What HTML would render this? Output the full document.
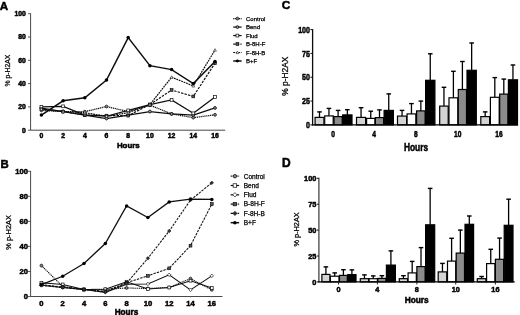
<!DOCTYPE html>
<html><head><meta charset="utf-8"><title>Figure</title>
<style>html,body{margin:0;padding:0;background:#fff;}svg{display:block;font-family:"Liberation Sans",sans-serif;}</style>
</head><body>
<svg width="520" height="315" viewBox="0 0 520 315">
<defs><filter id="soft" x="0" y="0" width="520" height="315" filterUnits="userSpaceOnUse"><feGaussianBlur stdDeviation="0.35"/></filter></defs>
<rect width="520" height="315" fill="#fff"/>
<g filter="url(#soft)">
<path d="M30.6,13.399999999999999 V130.2 H225.2" fill="none" stroke="#333" stroke-width="0.9"/>
<path d="M28.0,130.20 H30.6" stroke="#333" stroke-width="0.8"/>
<text transform="translate(25.90,132.63)" font-size="6.8" text-anchor="end" font-weight="bold" fill="#000" stroke="#000" stroke-width="0.5">0</text>
<path d="M28.0,106.90 H30.6" stroke="#333" stroke-width="0.8"/>
<text transform="translate(25.90,109.33)" font-size="6.8" text-anchor="end" font-weight="bold" fill="#000" stroke="#000" stroke-width="0.5">20</text>
<path d="M28.0,83.60 H30.6" stroke="#333" stroke-width="0.8"/>
<text transform="translate(25.90,86.03)" font-size="6.8" text-anchor="end" font-weight="bold" fill="#000" stroke="#000" stroke-width="0.5">40</text>
<path d="M28.0,60.30 H30.6" stroke="#333" stroke-width="0.8"/>
<text transform="translate(25.90,62.73)" font-size="6.8" text-anchor="end" font-weight="bold" fill="#000" stroke="#000" stroke-width="0.5">60</text>
<path d="M28.0,37.00 H30.6" stroke="#333" stroke-width="0.8"/>
<text transform="translate(25.90,39.43)" font-size="6.8" text-anchor="end" font-weight="bold" fill="#000" stroke="#000" stroke-width="0.5">80</text>
<path d="M28.0,13.70 H30.6" stroke="#333" stroke-width="0.8"/>
<text transform="translate(25.90,16.13)" font-size="6.8" text-anchor="end" font-weight="bold" fill="#000" stroke="#000" stroke-width="0.5">100</text>
<path d="M41.40,130.2 V131.39999999999998" stroke="#999" stroke-width="0.6"/>
<text transform="translate(41.40,138.20)" font-size="6.8" text-anchor="middle" font-weight="bold" fill="#000" stroke="#000" stroke-width="0.5">0</text>
<path d="M63.10,130.2 V131.39999999999998" stroke="#999" stroke-width="0.6"/>
<text transform="translate(63.10,138.20)" font-size="6.8" text-anchor="middle" font-weight="bold" fill="#000" stroke="#000" stroke-width="0.5">2</text>
<path d="M84.80,130.2 V131.39999999999998" stroke="#999" stroke-width="0.6"/>
<text transform="translate(84.80,138.20)" font-size="6.8" text-anchor="middle" font-weight="bold" fill="#000" stroke="#000" stroke-width="0.5">4</text>
<path d="M106.50,130.2 V131.39999999999998" stroke="#999" stroke-width="0.6"/>
<text transform="translate(106.50,138.20)" font-size="6.8" text-anchor="middle" font-weight="bold" fill="#000" stroke="#000" stroke-width="0.5">6</text>
<path d="M128.20,130.2 V131.39999999999998" stroke="#999" stroke-width="0.6"/>
<text transform="translate(128.20,138.20)" font-size="6.8" text-anchor="middle" font-weight="bold" fill="#000" stroke="#000" stroke-width="0.5">8</text>
<path d="M149.90,130.2 V131.39999999999998" stroke="#999" stroke-width="0.6"/>
<text transform="translate(149.90,138.20)" font-size="6.8" text-anchor="middle" font-weight="bold" fill="#000" stroke="#000" stroke-width="0.5">10</text>
<path d="M171.60,130.2 V131.39999999999998" stroke="#999" stroke-width="0.6"/>
<text transform="translate(171.60,138.20)" font-size="6.8" text-anchor="middle" font-weight="bold" fill="#000" stroke="#000" stroke-width="0.5">12</text>
<path d="M193.30,130.2 V131.39999999999998" stroke="#999" stroke-width="0.6"/>
<text transform="translate(193.30,138.20)" font-size="6.8" text-anchor="middle" font-weight="bold" fill="#000" stroke="#000" stroke-width="0.5">14</text>
<path d="M215.00,130.2 V131.39999999999998" stroke="#999" stroke-width="0.6"/>
<text transform="translate(215.00,138.20)" font-size="6.8" text-anchor="middle" font-weight="bold" fill="#000" stroke="#000" stroke-width="0.5">16</text>
<text transform="translate(128.30,147.90)" font-size="7.9" text-anchor="middle" font-weight="bold" fill="#000" stroke="#000" stroke-width="0.5">Hours</text>
<text transform="translate(10.20,70.60) rotate(-90)" font-size="6.8" text-anchor="middle" fill="#000" stroke="#000" stroke-width="0.25">% p-H2AX</text>
<text transform="translate(-0.30,10.20)" font-size="11.6" text-anchor="start" font-weight="bold" fill="#000" stroke="#000" stroke-width="0.5">A</text>
<polyline points="41.40,110.39 63.10,111.56 84.80,111.68 106.50,106.55 128.20,111.56 149.90,105.15 171.60,113.89 193.30,117.62 215.00,114.82" fill="none" stroke="#111" stroke-width="1.25" stroke-dasharray="1.2 0.7"/>
<circle cx="41.40" cy="110.39" r="1.4" fill="#888" stroke="#111" stroke-width="0.8"/>
<circle cx="63.10" cy="111.56" r="1.4" fill="#888" stroke="#111" stroke-width="0.8"/>
<circle cx="84.80" cy="111.68" r="1.4" fill="#888" stroke="#111" stroke-width="0.8"/>
<circle cx="106.50" cy="106.55" r="1.4" fill="#888" stroke="#111" stroke-width="0.8"/>
<circle cx="128.20" cy="111.56" r="1.4" fill="#888" stroke="#111" stroke-width="0.8"/>
<circle cx="149.90" cy="105.15" r="1.4" fill="#888" stroke="#111" stroke-width="0.8"/>
<circle cx="171.60" cy="113.89" r="1.4" fill="#888" stroke="#111" stroke-width="0.8"/>
<circle cx="193.30" cy="117.62" r="1.4" fill="#888" stroke="#111" stroke-width="0.8"/>
<circle cx="215.00" cy="114.82" r="1.4" fill="#888" stroke="#111" stroke-width="0.8"/>
<polyline points="41.40,108.06 63.10,111.56 84.80,115.05 106.50,118.55 128.20,115.05 149.90,111.56 171.60,113.89 193.30,115.05 215.00,107.95" fill="none" stroke="#111" stroke-width="1.25"/>
<circle cx="41.40" cy="108.06" r="1.4" fill="#999" stroke="#111" stroke-width="0.9"/>
<circle cx="63.10" cy="111.56" r="1.4" fill="#999" stroke="#111" stroke-width="0.9"/>
<circle cx="84.80" cy="115.05" r="1.4" fill="#999" stroke="#111" stroke-width="0.9"/>
<circle cx="106.50" cy="118.55" r="1.4" fill="#999" stroke="#111" stroke-width="0.9"/>
<circle cx="128.20" cy="115.05" r="1.4" fill="#999" stroke="#111" stroke-width="0.9"/>
<circle cx="149.90" cy="111.56" r="1.4" fill="#999" stroke="#111" stroke-width="0.9"/>
<circle cx="171.60" cy="113.89" r="1.4" fill="#999" stroke="#111" stroke-width="0.9"/>
<circle cx="193.30" cy="115.05" r="1.4" fill="#999" stroke="#111" stroke-width="0.9"/>
<circle cx="215.00" cy="107.95" r="1.4" fill="#999" stroke="#111" stroke-width="0.9"/>
<polyline points="41.40,106.90 63.10,106.32 84.80,115.05 106.50,116.22 128.20,110.39 149.90,104.57 171.60,99.91 193.30,113.31 215.00,97.00" fill="none" stroke="#111" stroke-width="1.20"/>
<rect x="40.00" y="105.50" width="2.8" height="2.8" fill="#fff" stroke="#111" stroke-width="0.7"/>
<rect x="61.70" y="104.92" width="2.8" height="2.8" fill="#fff" stroke="#111" stroke-width="0.7"/>
<rect x="83.40" y="113.65" width="2.8" height="2.8" fill="#fff" stroke="#111" stroke-width="0.7"/>
<rect x="105.10" y="114.82" width="2.8" height="2.8" fill="#fff" stroke="#111" stroke-width="0.7"/>
<rect x="126.80" y="108.99" width="2.8" height="2.8" fill="#fff" stroke="#111" stroke-width="0.7"/>
<rect x="148.50" y="103.17" width="2.8" height="2.8" fill="#fff" stroke="#111" stroke-width="0.7"/>
<rect x="170.20" y="98.51" width="2.8" height="2.8" fill="#fff" stroke="#111" stroke-width="0.7"/>
<rect x="191.90" y="111.91" width="2.8" height="2.8" fill="#fff" stroke="#111" stroke-width="0.7"/>
<rect x="213.60" y="95.60" width="2.8" height="2.8" fill="#fff" stroke="#111" stroke-width="0.7"/>
<polyline points="41.40,109.23 63.10,111.56 84.80,115.05 106.50,115.64 128.20,115.64 149.90,104.57 171.60,90.01 193.30,96.41 215.00,63.21" fill="none" stroke="#111" stroke-width="1.20" stroke-dasharray="2.4 1.2"/>
<rect x="40.00" y="107.83" width="2.8" height="2.8" fill="#555" stroke="#000" stroke-width="0.6"/>
<rect x="61.70" y="110.16" width="2.8" height="2.8" fill="#555" stroke="#000" stroke-width="0.6"/>
<rect x="83.40" y="113.65" width="2.8" height="2.8" fill="#555" stroke="#000" stroke-width="0.6"/>
<rect x="105.10" y="114.24" width="2.8" height="2.8" fill="#555" stroke="#000" stroke-width="0.6"/>
<rect x="126.80" y="114.24" width="2.8" height="2.8" fill="#555" stroke="#000" stroke-width="0.6"/>
<rect x="148.50" y="103.17" width="2.8" height="2.8" fill="#555" stroke="#000" stroke-width="0.6"/>
<rect x="170.20" y="88.61" width="2.8" height="2.8" fill="#555" stroke="#000" stroke-width="0.6"/>
<rect x="191.90" y="95.01" width="2.8" height="2.8" fill="#555" stroke="#000" stroke-width="0.6"/>
<rect x="213.60" y="61.81" width="2.8" height="2.8" fill="#555" stroke="#000" stroke-width="0.6"/>
<polyline points="41.40,109.23 63.10,111.56 84.80,112.72 106.50,116.22 128.20,112.72 149.90,104.57 171.60,77.19 193.30,85.93 215.00,50.05" fill="none" stroke="#111" stroke-width="1.20" stroke-dasharray="1.8 0.8"/>
<path d="M41.40,107.83 L42.80,110.35 L40.00,110.35Z" fill="#fff" stroke="#222" stroke-width="0.6"/>
<path d="M63.10,110.16 L64.50,112.68 L61.70,112.68Z" fill="#fff" stroke="#222" stroke-width="0.6"/>
<path d="M84.80,111.32 L86.20,113.84 L83.40,113.84Z" fill="#fff" stroke="#222" stroke-width="0.6"/>
<path d="M106.50,114.82 L107.90,117.34 L105.10,117.34Z" fill="#fff" stroke="#222" stroke-width="0.6"/>
<path d="M128.20,111.32 L129.60,113.84 L126.80,113.84Z" fill="#fff" stroke="#222" stroke-width="0.6"/>
<path d="M149.90,103.17 L151.30,105.69 L148.50,105.69Z" fill="#fff" stroke="#222" stroke-width="0.6"/>
<path d="M171.60,75.79 L173.00,78.31 L170.20,78.31Z" fill="#fff" stroke="#222" stroke-width="0.6"/>
<path d="M193.30,84.53 L194.70,87.05 L191.90,87.05Z" fill="#fff" stroke="#222" stroke-width="0.6"/>
<path d="M215.00,48.65 L216.40,51.17 L213.60,51.17Z" fill="#fff" stroke="#222" stroke-width="0.6"/>
<polyline points="41.40,115.05 63.10,100.84 84.80,97.81 106.50,80.10 128.20,37.58 149.90,65.66 171.60,69.62 193.30,83.60 215.00,61.47" fill="none" stroke="#111" stroke-width="1.50"/>
<circle cx="41.40" cy="115.05" r="1.75" fill="#000"/>
<circle cx="63.10" cy="100.84" r="1.75" fill="#000"/>
<circle cx="84.80" cy="97.81" r="1.75" fill="#000"/>
<circle cx="106.50" cy="80.10" r="1.75" fill="#000"/>
<circle cx="128.20" cy="37.58" r="1.75" fill="#000"/>
<circle cx="149.90" cy="65.66" r="1.75" fill="#000"/>
<circle cx="171.60" cy="69.62" r="1.75" fill="#000"/>
<circle cx="193.30" cy="83.60" r="1.75" fill="#000"/>
<circle cx="215.00" cy="61.47" r="1.75" fill="#000"/>
<path d="M233.20000000000002,18.60 H241.6" stroke="#111" stroke-width="1.25" stroke-dasharray="1.2 0.7"/>
<circle cx="237.40" cy="18.60" r="1.4" fill="#888" stroke="#111" stroke-width="0.8"/>
<text transform="translate(246.00,20.76)" font-size="6.0" text-anchor="start" fill="#000" stroke="#000" stroke-width="0.25">Control</text>
<path d="M233.20000000000002,27.08 H241.6" stroke="#111" stroke-width="1.25"/>
<circle cx="237.40" cy="27.08" r="1.4" fill="#999" stroke="#111" stroke-width="0.9"/>
<text transform="translate(246.00,29.24)" font-size="6.0" text-anchor="start" fill="#000" stroke="#000" stroke-width="0.25">Bend</text>
<path d="M233.20000000000002,35.56 H241.6" stroke="#111" stroke-width="1.2"/>
<rect x="236.00" y="34.16" width="2.8" height="2.8" fill="#fff" stroke="#111" stroke-width="0.7"/>
<text transform="translate(246.00,37.72)" font-size="6.0" text-anchor="start" fill="#000" stroke="#000" stroke-width="0.25">Flud</text>
<path d="M233.20000000000002,44.04 H241.6" stroke="#111" stroke-width="1.2" stroke-dasharray="2.4 1.2"/>
<rect x="236.00" y="42.64" width="2.8" height="2.8" fill="#555" stroke="#000" stroke-width="0.6"/>
<text transform="translate(246.00,46.20)" font-size="6.0" text-anchor="start" fill="#000" stroke="#000" stroke-width="0.25">B-8H-F</text>
<path d="M233.20000000000002,52.52 H241.6" stroke="#111" stroke-width="1.2" stroke-dasharray="1.8 0.8"/>
<path d="M237.40,51.12 L238.80,53.64 L236.00,53.64Z" fill="#fff" stroke="#222" stroke-width="0.6"/>
<text transform="translate(246.00,54.68)" font-size="6.0" text-anchor="start" fill="#000" stroke="#000" stroke-width="0.25">F-8H-B</text>
<path d="M233.20000000000002,61.00 H241.6" stroke="#111" stroke-width="1.5"/>
<circle cx="237.40" cy="61.00" r="1.4" fill="#000"/>
<text transform="translate(246.00,63.16)" font-size="6.0" text-anchor="start" fill="#000" stroke="#000" stroke-width="0.25">B+F</text>
<path d="M30.6,171.0 V296.5 H222.5" fill="none" stroke="#333" stroke-width="0.9"/>
<path d="M28.0,296.50 H30.6" stroke="#333" stroke-width="0.8"/>
<text transform="translate(27.90,299.22)" font-size="7.6" text-anchor="end" font-weight="bold" fill="#000" stroke="#000" stroke-width="0.5">0</text>
<path d="M28.0,271.46 H30.6" stroke="#333" stroke-width="0.8"/>
<text transform="translate(27.90,274.18)" font-size="7.6" text-anchor="end" font-weight="bold" fill="#000" stroke="#000" stroke-width="0.5">20</text>
<path d="M28.0,246.42 H30.6" stroke="#333" stroke-width="0.8"/>
<text transform="translate(27.90,249.14)" font-size="7.6" text-anchor="end" font-weight="bold" fill="#000" stroke="#000" stroke-width="0.5">40</text>
<path d="M28.0,221.38 H30.6" stroke="#333" stroke-width="0.8"/>
<text transform="translate(27.90,224.10)" font-size="7.6" text-anchor="end" font-weight="bold" fill="#000" stroke="#000" stroke-width="0.5">60</text>
<path d="M28.0,196.34 H30.6" stroke="#333" stroke-width="0.8"/>
<text transform="translate(27.90,199.06)" font-size="7.6" text-anchor="end" font-weight="bold" fill="#000" stroke="#000" stroke-width="0.5">80</text>
<path d="M28.0,171.30 H30.6" stroke="#333" stroke-width="0.8"/>
<text transform="translate(27.90,174.02)" font-size="7.6" text-anchor="end" font-weight="bold" fill="#000" stroke="#000" stroke-width="0.5">100</text>
<path d="M41.40,296.5 V297.7" stroke="#999" stroke-width="0.6"/>
<text transform="translate(41.40,305.80)" font-size="7.6" text-anchor="middle" font-weight="bold" fill="#000" stroke="#000" stroke-width="0.5">0</text>
<path d="M62.70,296.5 V297.7" stroke="#999" stroke-width="0.6"/>
<text transform="translate(62.70,305.80)" font-size="7.6" text-anchor="middle" font-weight="bold" fill="#000" stroke="#000" stroke-width="0.5">2</text>
<path d="M84.00,296.5 V297.7" stroke="#999" stroke-width="0.6"/>
<text transform="translate(84.00,305.80)" font-size="7.6" text-anchor="middle" font-weight="bold" fill="#000" stroke="#000" stroke-width="0.5">4</text>
<path d="M105.30,296.5 V297.7" stroke="#999" stroke-width="0.6"/>
<text transform="translate(105.30,305.80)" font-size="7.6" text-anchor="middle" font-weight="bold" fill="#000" stroke="#000" stroke-width="0.5">6</text>
<path d="M126.60,296.5 V297.7" stroke="#999" stroke-width="0.6"/>
<text transform="translate(126.60,305.80)" font-size="7.6" text-anchor="middle" font-weight="bold" fill="#000" stroke="#000" stroke-width="0.5">8</text>
<path d="M147.90,296.5 V297.7" stroke="#999" stroke-width="0.6"/>
<text transform="translate(147.90,305.80)" font-size="7.6" text-anchor="middle" font-weight="bold" fill="#000" stroke="#000" stroke-width="0.5">10</text>
<path d="M169.20,296.5 V297.7" stroke="#999" stroke-width="0.6"/>
<text transform="translate(169.20,305.80)" font-size="7.6" text-anchor="middle" font-weight="bold" fill="#000" stroke="#000" stroke-width="0.5">12</text>
<path d="M190.50,296.5 V297.7" stroke="#999" stroke-width="0.6"/>
<text transform="translate(190.50,305.80)" font-size="7.6" text-anchor="middle" font-weight="bold" fill="#000" stroke="#000" stroke-width="0.5">14</text>
<path d="M211.80,296.5 V297.7" stroke="#999" stroke-width="0.6"/>
<text transform="translate(211.80,305.80)" font-size="7.6" text-anchor="middle" font-weight="bold" fill="#000" stroke="#000" stroke-width="0.5">16</text>
<text transform="translate(126.50,314.60)" font-size="8.2" text-anchor="middle" font-weight="bold" fill="#000" stroke="#000" stroke-width="0.5">Hours</text>
<text transform="translate(11.00,232.40) rotate(-90)" font-size="7.4" text-anchor="middle" fill="#000" stroke="#000" stroke-width="0.25">% p-H2AX</text>
<text transform="translate(0.40,167.60)" font-size="11.4" text-anchor="start" font-weight="bold" fill="#000" stroke="#000" stroke-width="0.5">B</text>
<polyline points="41.40,265.58 62.70,286.48 84.00,289.49 105.30,289.24 126.60,287.99 147.90,288.49 169.20,287.49 190.50,278.60 211.80,289.86" fill="none" stroke="#111" stroke-width="1.06" stroke-dasharray="1.2 0.7"/>
<circle cx="41.40" cy="265.58" r="1.4" fill="#888" stroke="#111" stroke-width="0.8"/>
<circle cx="62.70" cy="286.48" r="1.4" fill="#888" stroke="#111" stroke-width="0.8"/>
<circle cx="84.00" cy="289.49" r="1.4" fill="#888" stroke="#111" stroke-width="0.8"/>
<circle cx="105.30" cy="289.24" r="1.4" fill="#888" stroke="#111" stroke-width="0.8"/>
<circle cx="126.60" cy="287.99" r="1.4" fill="#888" stroke="#111" stroke-width="0.8"/>
<circle cx="147.90" cy="288.49" r="1.4" fill="#888" stroke="#111" stroke-width="0.8"/>
<circle cx="169.20" cy="287.49" r="1.4" fill="#888" stroke="#111" stroke-width="0.8"/>
<circle cx="190.50" cy="278.60" r="1.4" fill="#888" stroke="#111" stroke-width="0.8"/>
<circle cx="211.80" cy="289.86" r="1.4" fill="#888" stroke="#111" stroke-width="0.8"/>
<polyline points="41.40,282.85 62.70,284.48 84.00,289.49 105.30,289.24 126.60,281.73 147.90,288.99 169.20,287.49 190.50,280.72 211.80,287.99" fill="none" stroke="#111" stroke-width="1.02"/>
<rect x="40.00" y="281.45" width="2.8" height="2.8" fill="#fff" stroke="#111" stroke-width="0.7"/>
<rect x="61.30" y="283.08" width="2.8" height="2.8" fill="#fff" stroke="#111" stroke-width="0.7"/>
<rect x="82.60" y="288.09" width="2.8" height="2.8" fill="#fff" stroke="#111" stroke-width="0.7"/>
<rect x="103.90" y="287.84" width="2.8" height="2.8" fill="#fff" stroke="#111" stroke-width="0.7"/>
<rect x="125.20" y="280.33" width="2.8" height="2.8" fill="#fff" stroke="#111" stroke-width="0.7"/>
<rect x="146.50" y="287.59" width="2.8" height="2.8" fill="#fff" stroke="#111" stroke-width="0.7"/>
<rect x="167.80" y="286.09" width="2.8" height="2.8" fill="#fff" stroke="#111" stroke-width="0.7"/>
<rect x="189.10" y="279.32" width="2.8" height="2.8" fill="#fff" stroke="#111" stroke-width="0.7"/>
<rect x="210.40" y="286.59" width="2.8" height="2.8" fill="#fff" stroke="#111" stroke-width="0.7"/>
<polyline points="41.40,285.36 62.70,287.49 84.00,289.49 105.30,292.37 126.60,284.23 147.90,283.98 169.20,274.84 190.50,289.86 211.80,275.84" fill="none" stroke="#111" stroke-width="1.02"/>
<path d="M41.40,283.61 L43.15,285.36 L41.40,287.11 L39.65,285.36Z" fill="#fff" stroke="#111" stroke-width="0.7"/>
<path d="M62.70,285.74 L64.45,287.49 L62.70,289.24 L60.95,287.49Z" fill="#fff" stroke="#111" stroke-width="0.7"/>
<path d="M84.00,287.74 L85.75,289.49 L84.00,291.24 L82.25,289.49Z" fill="#fff" stroke="#111" stroke-width="0.7"/>
<path d="M105.30,290.62 L107.05,292.37 L105.30,294.12 L103.55,292.37Z" fill="#fff" stroke="#111" stroke-width="0.7"/>
<path d="M126.60,282.48 L128.35,284.23 L126.60,285.98 L124.85,284.23Z" fill="#fff" stroke="#111" stroke-width="0.7"/>
<path d="M147.90,282.23 L149.65,283.98 L147.90,285.73 L146.15,283.98Z" fill="#fff" stroke="#111" stroke-width="0.7"/>
<path d="M169.20,273.09 L170.95,274.84 L169.20,276.59 L167.45,274.84Z" fill="#fff" stroke="#111" stroke-width="0.7"/>
<path d="M190.50,288.11 L192.25,289.86 L190.50,291.61 L188.75,289.86Z" fill="#fff" stroke="#111" stroke-width="0.7"/>
<path d="M211.80,274.09 L213.55,275.84 L211.80,277.59 L210.05,275.84Z" fill="#fff" stroke="#111" stroke-width="0.7"/>
<polyline points="41.40,284.61 62.70,287.11 84.00,289.49 105.30,291.24 126.60,282.73 147.90,275.84 169.20,268.33 190.50,245.67 211.80,204.10" fill="none" stroke="#111" stroke-width="1.06" stroke-dasharray="2.4 1.1"/>
<rect x="40.00" y="283.21" width="2.8" height="2.8" fill="#555" stroke="#000" stroke-width="0.6"/>
<rect x="61.30" y="285.71" width="2.8" height="2.8" fill="#555" stroke="#000" stroke-width="0.6"/>
<rect x="82.60" y="288.09" width="2.8" height="2.8" fill="#555" stroke="#000" stroke-width="0.6"/>
<rect x="103.90" y="289.84" width="2.8" height="2.8" fill="#555" stroke="#000" stroke-width="0.6"/>
<rect x="125.20" y="281.33" width="2.8" height="2.8" fill="#555" stroke="#000" stroke-width="0.6"/>
<rect x="146.50" y="274.44" width="2.8" height="2.8" fill="#555" stroke="#000" stroke-width="0.6"/>
<rect x="167.80" y="266.93" width="2.8" height="2.8" fill="#555" stroke="#000" stroke-width="0.6"/>
<rect x="189.10" y="244.27" width="2.8" height="2.8" fill="#555" stroke="#000" stroke-width="0.6"/>
<rect x="210.40" y="202.70" width="2.8" height="2.8" fill="#555" stroke="#000" stroke-width="0.6"/>
<polyline points="41.40,285.36 62.70,287.49 84.00,289.49 105.30,291.99 126.60,283.23 147.90,258.31 169.20,231.02 190.50,200.10 211.80,182.82" fill="none" stroke="#111" stroke-width="1.06" stroke-dasharray="2.4 1.1"/>
<path d="M41.40,283.61 L43.15,285.36 L41.40,287.11 L39.65,285.36Z" fill="#333" stroke="#000" stroke-width="0.5"/>
<path d="M62.70,285.74 L64.45,287.49 L62.70,289.24 L60.95,287.49Z" fill="#333" stroke="#000" stroke-width="0.5"/>
<path d="M84.00,287.74 L85.75,289.49 L84.00,291.24 L82.25,289.49Z" fill="#333" stroke="#000" stroke-width="0.5"/>
<path d="M105.30,290.24 L107.05,291.99 L105.30,293.74 L103.55,291.99Z" fill="#333" stroke="#000" stroke-width="0.5"/>
<path d="M126.60,281.48 L128.35,283.23 L126.60,284.98 L124.85,283.23Z" fill="#333" stroke="#000" stroke-width="0.5"/>
<path d="M147.90,256.56 L149.65,258.31 L147.90,260.06 L146.15,258.31Z" fill="#333" stroke="#000" stroke-width="0.5"/>
<path d="M169.20,229.27 L170.95,231.02 L169.20,232.77 L167.45,231.02Z" fill="#333" stroke="#000" stroke-width="0.5"/>
<path d="M190.50,198.35 L192.25,200.10 L190.50,201.85 L188.75,200.10Z" fill="#333" stroke="#000" stroke-width="0.5"/>
<path d="M211.80,181.07 L213.55,182.82 L211.80,184.57 L210.05,182.82Z" fill="#333" stroke="#000" stroke-width="0.5"/>
<polyline points="41.40,284.61 62.70,276.22 84.00,263.57 105.30,243.54 126.60,205.98 147.90,217.62 169.20,201.97 190.50,199.09 211.80,199.47" fill="none" stroke="#111" stroke-width="1.27"/>
<circle cx="41.40" cy="284.61" r="1.75" fill="#000"/>
<circle cx="62.70" cy="276.22" r="1.75" fill="#000"/>
<circle cx="84.00" cy="263.57" r="1.75" fill="#000"/>
<circle cx="105.30" cy="243.54" r="1.75" fill="#000"/>
<circle cx="126.60" cy="205.98" r="1.75" fill="#000"/>
<circle cx="147.90" cy="217.62" r="1.75" fill="#000"/>
<circle cx="169.20" cy="201.97" r="1.75" fill="#000"/>
<circle cx="190.50" cy="199.09" r="1.75" fill="#000"/>
<circle cx="211.80" cy="199.47" r="1.75" fill="#000"/>
<path d="M230.70000000000002,176.20 H239.1" stroke="#111" stroke-width="1.25" stroke-dasharray="1.2 0.7"/>
<circle cx="234.90" cy="176.20" r="1.75" fill="#888" stroke="#111" stroke-width="0.8"/>
<text transform="translate(243.70,178.56)" font-size="6.55" text-anchor="start" fill="#000" stroke="#000" stroke-width="0.25">Control</text>
<path d="M230.70000000000002,185.50 H239.1" stroke="#111" stroke-width="1.2"/>
<rect x="233.15" y="183.75" width="3.5" height="3.5" fill="#fff" stroke="#111" stroke-width="0.7"/>
<text transform="translate(243.70,187.86)" font-size="6.55" text-anchor="start" fill="#000" stroke="#000" stroke-width="0.25">Bend</text>
<path d="M230.70000000000002,194.80 H239.1" stroke="#111" stroke-width="1.2"/>
<path d="M234.90,192.61 L237.09,194.80 L234.90,196.99 L232.71,194.80Z" fill="#fff" stroke="#111" stroke-width="0.7"/>
<text transform="translate(243.70,197.16)" font-size="6.55" text-anchor="start" fill="#000" stroke="#000" stroke-width="0.25">Flud</text>
<path d="M230.70000000000002,204.10 H239.1" stroke="#111" stroke-width="1.25" stroke-dasharray="2.4 1.1"/>
<rect x="233.15" y="202.35" width="3.5" height="3.5" fill="#555" stroke="#000" stroke-width="0.6"/>
<text transform="translate(243.70,206.46)" font-size="6.55" text-anchor="start" fill="#000" stroke="#000" stroke-width="0.25">B-8H-F</text>
<path d="M230.70000000000002,213.40 H239.1" stroke="#111" stroke-width="1.25" stroke-dasharray="2.4 1.1"/>
<path d="M234.90,211.21 L237.09,213.40 L234.90,215.59 L232.71,213.40Z" fill="#333" stroke="#000" stroke-width="0.5"/>
<text transform="translate(243.70,215.76)" font-size="6.55" text-anchor="start" fill="#000" stroke="#000" stroke-width="0.25">F-8H-B</text>
<path d="M230.70000000000002,222.70 H239.1" stroke="#111" stroke-width="1.5"/>
<circle cx="234.90" cy="222.70" r="1.75" fill="#000"/>
<text transform="translate(243.70,225.06)" font-size="6.55" text-anchor="start" fill="#000" stroke="#000" stroke-width="0.25">B+F</text>
<path d="M319.50,117.40 V111.60" stroke="#000" stroke-width="1.3" fill="none"/>
<path d="M317.20,111.90 H321.80" stroke="#000" stroke-width="1.4" fill="none"/>
<rect x="315.10" y="117.40" width="8.80" height="7.50" fill="#d4d4d4" stroke="#000" stroke-width="1.2"/>
<path d="M328.95,115.90 V108.10" stroke="#000" stroke-width="1.3" fill="none"/>
<path d="M326.65,108.40 H331.25" stroke="#000" stroke-width="1.4" fill="none"/>
<rect x="324.70" y="115.90" width="8.50" height="9.00" fill="#ffffff" stroke="#000" stroke-width="1.2"/>
<path d="M338.10,116.60 V110.10" stroke="#000" stroke-width="1.3" fill="none"/>
<path d="M335.80,110.40 H340.40" stroke="#000" stroke-width="1.4" fill="none"/>
<rect x="334.00" y="116.60" width="8.20" height="8.30" fill="#8c8c8c" stroke="#000" stroke-width="1.2"/>
<path d="M347.35,114.90 V109.40" stroke="#000" stroke-width="1.3" fill="none"/>
<path d="M345.05,109.70 H349.65" stroke="#000" stroke-width="1.4" fill="none"/>
<rect x="342.70" y="114.90" width="9.30" height="10.00" fill="#000000" stroke="#000" stroke-width="1.2"/>
<text transform="translate(333.20,136.80) scale(0.79,1)" font-size="8.4" text-anchor="middle" font-weight="bold" fill="#000" stroke="#000" stroke-width="0.5">0</text>
<path d="M361.05,117.40 V107.40" stroke="#000" stroke-width="1.3" fill="none"/>
<path d="M358.75,107.70 H363.35" stroke="#000" stroke-width="1.4" fill="none"/>
<rect x="356.50" y="117.40" width="9.10" height="7.50" fill="#d4d4d4" stroke="#000" stroke-width="1.2"/>
<path d="M370.75,118.40 V110.90" stroke="#000" stroke-width="1.3" fill="none"/>
<path d="M368.45,111.20 H373.05" stroke="#000" stroke-width="1.4" fill="none"/>
<rect x="366.60" y="118.40" width="8.30" height="6.50" fill="#ffffff" stroke="#000" stroke-width="1.2"/>
<path d="M379.50,117.60 V109.60" stroke="#000" stroke-width="1.3" fill="none"/>
<path d="M377.20,109.90 H381.80" stroke="#000" stroke-width="1.4" fill="none"/>
<rect x="375.40" y="117.60" width="8.20" height="7.30" fill="#8c8c8c" stroke="#000" stroke-width="1.2"/>
<path d="M388.75,110.40 V93.60" stroke="#000" stroke-width="1.3" fill="none"/>
<path d="M386.45,93.90 H391.05" stroke="#000" stroke-width="1.4" fill="none"/>
<rect x="384.10" y="110.40" width="9.30" height="14.50" fill="#000000" stroke="#000" stroke-width="1.2"/>
<text transform="translate(374.10,136.80) scale(0.79,1)" font-size="8.4" text-anchor="middle" font-weight="bold" fill="#000" stroke="#000" stroke-width="0.5">4</text>
<path d="M402.05,116.10 V110.10" stroke="#000" stroke-width="1.3" fill="none"/>
<path d="M399.75,110.40 H404.35" stroke="#000" stroke-width="1.4" fill="none"/>
<rect x="397.50" y="116.10" width="9.10" height="8.80" fill="#d4d4d4" stroke="#000" stroke-width="1.2"/>
<path d="M411.45,113.90 V103.30" stroke="#000" stroke-width="1.3" fill="none"/>
<path d="M409.15,103.60 H413.75" stroke="#000" stroke-width="1.4" fill="none"/>
<rect x="407.10" y="113.90" width="8.70" height="11.00" fill="#ffffff" stroke="#000" stroke-width="1.2"/>
<path d="M420.85,110.90 V100.80" stroke="#000" stroke-width="1.3" fill="none"/>
<path d="M418.55,101.10 H423.15" stroke="#000" stroke-width="1.4" fill="none"/>
<rect x="416.60" y="110.90" width="8.50" height="14.00" fill="#8c8c8c" stroke="#000" stroke-width="1.2"/>
<path d="M430.25,80.30 V53.50" stroke="#000" stroke-width="1.3" fill="none"/>
<path d="M427.95,53.80 H432.55" stroke="#000" stroke-width="1.4" fill="none"/>
<rect x="425.60" y="80.30" width="9.30" height="44.60" fill="#000000" stroke="#000" stroke-width="1.2"/>
<text transform="translate(415.80,136.80) scale(0.79,1)" font-size="8.4" text-anchor="middle" font-weight="bold" fill="#000" stroke="#000" stroke-width="0.5">8</text>
<path d="M443.95,106.10 V87.00" stroke="#000" stroke-width="1.3" fill="none"/>
<path d="M441.65,87.30 H446.25" stroke="#000" stroke-width="1.4" fill="none"/>
<rect x="439.70" y="106.10" width="8.50" height="18.80" fill="#d4d4d4" stroke="#000" stroke-width="1.2"/>
<path d="M453.40,97.80 V71.00" stroke="#000" stroke-width="1.3" fill="none"/>
<path d="M451.10,71.30 H455.70" stroke="#000" stroke-width="1.4" fill="none"/>
<rect x="449.00" y="97.80" width="8.80" height="27.10" fill="#ffffff" stroke="#000" stroke-width="1.2"/>
<path d="M462.40,89.50 V61.20" stroke="#000" stroke-width="1.3" fill="none"/>
<path d="M460.10,61.50 H464.70" stroke="#000" stroke-width="1.4" fill="none"/>
<rect x="458.30" y="89.50" width="8.20" height="35.40" fill="#8c8c8c" stroke="#000" stroke-width="1.2"/>
<path d="M471.65,70.30 V42.70" stroke="#000" stroke-width="1.3" fill="none"/>
<path d="M469.35,43.00 H473.95" stroke="#000" stroke-width="1.4" fill="none"/>
<rect x="467.00" y="70.30" width="9.30" height="54.60" fill="#000000" stroke="#000" stroke-width="1.2"/>
<text transform="translate(457.80,136.80) scale(0.79,1)" font-size="8.4" text-anchor="middle" font-weight="bold" fill="#000" stroke="#000" stroke-width="0.5">10</text>
<path d="M485.20,116.60 V111.60" stroke="#000" stroke-width="1.3" fill="none"/>
<path d="M482.90,111.90 H487.50" stroke="#000" stroke-width="1.4" fill="none"/>
<rect x="480.80" y="116.60" width="8.80" height="8.30" fill="#d4d4d4" stroke="#000" stroke-width="1.2"/>
<path d="M494.80,97.30 V77.30" stroke="#000" stroke-width="1.3" fill="none"/>
<path d="M492.50,77.60 H497.10" stroke="#000" stroke-width="1.4" fill="none"/>
<rect x="490.40" y="97.30" width="8.80" height="27.60" fill="#ffffff" stroke="#000" stroke-width="1.2"/>
<path d="M503.80,94.10 V78.80" stroke="#000" stroke-width="1.3" fill="none"/>
<path d="M501.50,79.10 H506.10" stroke="#000" stroke-width="1.4" fill="none"/>
<rect x="499.70" y="94.10" width="8.20" height="30.80" fill="#8c8c8c" stroke="#000" stroke-width="1.2"/>
<path d="M512.95,79.80 V64.70" stroke="#000" stroke-width="1.3" fill="none"/>
<path d="M510.65,65.00 H515.25" stroke="#000" stroke-width="1.4" fill="none"/>
<rect x="508.40" y="79.80" width="9.10" height="45.10" fill="#000000" stroke="#000" stroke-width="1.2"/>
<text transform="translate(498.90,136.80) scale(0.79,1)" font-size="8.4" text-anchor="middle" font-weight="bold" fill="#000" stroke="#000" stroke-width="0.5">16</text>
<path d="M312.6,29.1 V125.5" fill="none" stroke="#111" stroke-width="1.3"/>
<path d="M312.0,124.9 H518" fill="none" stroke="#000" stroke-width="1.4"/>
<path d="M310.40000000000003,124.90 H312.6" stroke="#111" stroke-width="1.0"/>
<text transform="translate(310.00,128.12) scale(0.79,1)" font-size="9.0" text-anchor="end" font-weight="bold" fill="#000" stroke="#000" stroke-width="0.5">0</text>
<path d="M310.40000000000003,101.08 H312.6" stroke="#111" stroke-width="1.0"/>
<text transform="translate(310.00,104.30) scale(0.79,1)" font-size="9.0" text-anchor="end" font-weight="bold" fill="#000" stroke="#000" stroke-width="0.5">25</text>
<path d="M310.40000000000003,77.25 H312.6" stroke="#111" stroke-width="1.0"/>
<text transform="translate(310.00,80.47) scale(0.79,1)" font-size="9.0" text-anchor="end" font-weight="bold" fill="#000" stroke="#000" stroke-width="0.5">50</text>
<path d="M310.40000000000003,53.42 H312.6" stroke="#111" stroke-width="1.0"/>
<text transform="translate(310.00,56.65) scale(0.79,1)" font-size="9.0" text-anchor="end" font-weight="bold" fill="#000" stroke="#000" stroke-width="0.5">75</text>
<path d="M310.40000000000003,29.60 H312.6" stroke="#111" stroke-width="1.0"/>
<text transform="translate(310.00,32.82) scale(0.79,1)" font-size="9.0" text-anchor="end" font-weight="bold" fill="#000" stroke="#000" stroke-width="0.5">100</text>
<text transform="translate(416.00,151.30) scale(0.824,1)" font-size="10.2" text-anchor="middle" font-weight="bold" fill="#000" stroke="#000" stroke-width="0.5">Hours</text>
<text transform="translate(288.20,76.20) rotate(-90)" font-size="8.4" text-anchor="middle" fill="#000" stroke="#000" stroke-width="0.25">% p-H2AX</text>
<text transform="translate(281.70,8.80)" font-size="11.8" text-anchor="start" font-weight="bold" fill="#000" stroke="#000" stroke-width="0.5">C</text>
<path d="M325.90,274.40 V266.60" stroke="#000" stroke-width="1.3" fill="none"/>
<path d="M323.60,266.90 H328.20" stroke="#000" stroke-width="1.4" fill="none"/>
<rect x="321.90" y="274.40" width="8.00" height="7.50" fill="#d4d4d4" stroke="#000" stroke-width="1.2"/>
<path d="M334.70,276.20 V272.60" stroke="#000" stroke-width="1.3" fill="none"/>
<path d="M332.40,272.90 H337.00" stroke="#000" stroke-width="1.4" fill="none"/>
<rect x="330.40" y="276.20" width="8.60" height="5.70" fill="#ffffff" stroke="#000" stroke-width="1.2"/>
<path d="M343.40,275.40 V269.40" stroke="#000" stroke-width="1.3" fill="none"/>
<path d="M341.10,269.70 H345.70" stroke="#000" stroke-width="1.4" fill="none"/>
<rect x="339.50" y="275.40" width="7.80" height="6.50" fill="#8c8c8c" stroke="#000" stroke-width="1.2"/>
<path d="M351.90,274.60 V269.60" stroke="#000" stroke-width="1.3" fill="none"/>
<path d="M349.60,269.90 H354.20" stroke="#000" stroke-width="1.4" fill="none"/>
<rect x="347.80" y="274.60" width="8.20" height="7.30" fill="#000000" stroke="#000" stroke-width="1.2"/>
<text transform="translate(338.50,291.70)" font-size="7.3" text-anchor="middle" font-weight="bold" fill="#000" stroke="#000" stroke-width="0.5">0</text>
<path d="M364.45,278.70 V274.60" stroke="#000" stroke-width="1.3" fill="none"/>
<path d="M362.15,274.90 H366.75" stroke="#000" stroke-width="1.4" fill="none"/>
<rect x="360.30" y="278.70" width="8.30" height="3.20" fill="#d4d4d4" stroke="#000" stroke-width="1.2"/>
<path d="M373.25,278.70 V275.60" stroke="#000" stroke-width="1.3" fill="none"/>
<path d="M370.95,275.90 H375.55" stroke="#000" stroke-width="1.4" fill="none"/>
<rect x="369.10" y="278.70" width="8.30" height="3.20" fill="#ffffff" stroke="#000" stroke-width="1.2"/>
<path d="M381.90,278.40 V275.40" stroke="#000" stroke-width="1.3" fill="none"/>
<path d="M379.60,275.70 H384.20" stroke="#000" stroke-width="1.4" fill="none"/>
<rect x="377.90" y="278.40" width="8.00" height="3.50" fill="#8c8c8c" stroke="#000" stroke-width="1.2"/>
<path d="M390.90,265.10 V250.60" stroke="#000" stroke-width="1.3" fill="none"/>
<path d="M388.60,250.90 H393.20" stroke="#000" stroke-width="1.4" fill="none"/>
<rect x="386.40" y="265.10" width="9.00" height="16.80" fill="#000000" stroke="#000" stroke-width="1.2"/>
<text transform="translate(377.40,291.70)" font-size="7.3" text-anchor="middle" font-weight="bold" fill="#000" stroke="#000" stroke-width="0.5">4</text>
<path d="M403.45,278.70 V275.40" stroke="#000" stroke-width="1.3" fill="none"/>
<path d="M401.15,275.70 H405.75" stroke="#000" stroke-width="1.4" fill="none"/>
<rect x="399.30" y="278.70" width="8.30" height="3.20" fill="#d4d4d4" stroke="#000" stroke-width="1.2"/>
<path d="M412.20,272.90 V261.10" stroke="#000" stroke-width="1.3" fill="none"/>
<path d="M409.90,261.40 H414.50" stroke="#000" stroke-width="1.4" fill="none"/>
<rect x="408.10" y="272.90" width="8.20" height="9.00" fill="#ffffff" stroke="#000" stroke-width="1.2"/>
<path d="M421.00,266.60 V247.30" stroke="#000" stroke-width="1.3" fill="none"/>
<path d="M418.70,247.60 H423.30" stroke="#000" stroke-width="1.4" fill="none"/>
<rect x="416.90" y="266.60" width="8.20" height="15.30" fill="#8c8c8c" stroke="#000" stroke-width="1.2"/>
<path d="M430.15,224.80 V188.10" stroke="#000" stroke-width="1.3" fill="none"/>
<path d="M427.85,188.40 H432.45" stroke="#000" stroke-width="1.4" fill="none"/>
<rect x="425.60" y="224.80" width="9.10" height="57.10" fill="#000000" stroke="#000" stroke-width="1.2"/>
<text transform="translate(416.90,291.70)" font-size="7.3" text-anchor="middle" font-weight="bold" fill="#000" stroke="#000" stroke-width="0.5">8</text>
<path d="M442.45,271.90 V263.10" stroke="#000" stroke-width="1.3" fill="none"/>
<path d="M440.15,263.40 H444.75" stroke="#000" stroke-width="1.4" fill="none"/>
<rect x="438.20" y="271.90" width="8.50" height="10.00" fill="#d4d4d4" stroke="#000" stroke-width="1.2"/>
<path d="M451.60,261.10 V238.00" stroke="#000" stroke-width="1.3" fill="none"/>
<path d="M449.30,238.30 H453.90" stroke="#000" stroke-width="1.4" fill="none"/>
<rect x="447.50" y="261.10" width="8.20" height="20.80" fill="#ffffff" stroke="#000" stroke-width="1.2"/>
<path d="M460.35,253.10 V229.80" stroke="#000" stroke-width="1.3" fill="none"/>
<path d="M458.05,230.10 H462.65" stroke="#000" stroke-width="1.4" fill="none"/>
<rect x="456.20" y="253.10" width="8.30" height="28.80" fill="#8c8c8c" stroke="#000" stroke-width="1.2"/>
<path d="M469.30,224.30 V215.70" stroke="#000" stroke-width="1.3" fill="none"/>
<path d="M467.00,216.00 H471.60" stroke="#000" stroke-width="1.4" fill="none"/>
<rect x="465.00" y="224.30" width="8.60" height="57.60" fill="#000000" stroke="#000" stroke-width="1.2"/>
<text transform="translate(455.70,291.70)" font-size="7.3" text-anchor="middle" font-weight="bold" fill="#000" stroke="#000" stroke-width="0.5">10</text>
<path d="M481.60,278.70 V276.20" stroke="#000" stroke-width="1.3" fill="none"/>
<path d="M479.30,276.50 H483.90" stroke="#000" stroke-width="1.4" fill="none"/>
<rect x="477.30" y="278.70" width="8.60" height="3.20" fill="#d4d4d4" stroke="#000" stroke-width="1.2"/>
<path d="M490.75,263.60 V249.00" stroke="#000" stroke-width="1.3" fill="none"/>
<path d="M488.45,249.30 H493.05" stroke="#000" stroke-width="1.4" fill="none"/>
<rect x="486.60" y="263.60" width="8.30" height="18.30" fill="#ffffff" stroke="#000" stroke-width="1.2"/>
<path d="M499.55,259.30 V237.80" stroke="#000" stroke-width="1.3" fill="none"/>
<path d="M497.25,238.10 H501.85" stroke="#000" stroke-width="1.4" fill="none"/>
<rect x="495.40" y="259.30" width="8.30" height="22.60" fill="#8c8c8c" stroke="#000" stroke-width="1.2"/>
<path d="M508.60,225.30 V198.90" stroke="#000" stroke-width="1.3" fill="none"/>
<path d="M506.30,199.20 H510.90" stroke="#000" stroke-width="1.4" fill="none"/>
<rect x="504.20" y="225.30" width="8.80" height="56.60" fill="#000000" stroke="#000" stroke-width="1.2"/>
<text transform="translate(495.40,291.70)" font-size="7.3" text-anchor="middle" font-weight="bold" fill="#000" stroke="#000" stroke-width="0.5">16</text>
<path d="M318.9,177.8 V282.5" fill="none" stroke="#444" stroke-width="1.3"/>
<path d="M318.29999999999995,281.9 H514.7" fill="none" stroke="#000" stroke-width="1.4"/>
<path d="M338.50,281.9 V284.5" stroke="#222" stroke-width="1.0"/>
<path d="M377.40,281.9 V284.5" stroke="#222" stroke-width="1.0"/>
<path d="M416.90,281.9 V284.5" stroke="#222" stroke-width="1.0"/>
<path d="M455.70,281.9 V284.5" stroke="#222" stroke-width="1.0"/>
<path d="M495.40,281.9 V284.5" stroke="#222" stroke-width="1.0"/>
<path d="M316.7,281.90 H318.9" stroke="#111" stroke-width="1.0"/>
<text transform="translate(316.30,284.51)" font-size="7.3" text-anchor="end" font-weight="bold" fill="#000" stroke="#000" stroke-width="0.5">0</text>
<path d="M316.7,256.00 H318.9" stroke="#111" stroke-width="1.0"/>
<text transform="translate(316.30,258.61)" font-size="7.3" text-anchor="end" font-weight="bold" fill="#000" stroke="#000" stroke-width="0.5">25</text>
<path d="M316.7,230.10 H318.9" stroke="#111" stroke-width="1.0"/>
<text transform="translate(316.30,232.71)" font-size="7.3" text-anchor="end" font-weight="bold" fill="#000" stroke="#000" stroke-width="0.5">50</text>
<path d="M316.7,204.20 H318.9" stroke="#111" stroke-width="1.0"/>
<text transform="translate(316.30,206.81)" font-size="7.3" text-anchor="end" font-weight="bold" fill="#000" stroke="#000" stroke-width="0.5">75</text>
<path d="M316.7,178.30 H318.9" stroke="#111" stroke-width="1.0"/>
<text transform="translate(316.30,180.91)" font-size="7.3" text-anchor="end" font-weight="bold" fill="#000" stroke="#000" stroke-width="0.5">100</text>
<text transform="translate(416.70,302.60)" font-size="8.3" text-anchor="middle" font-weight="bold" fill="#000" stroke="#000" stroke-width="0.5">Hours</text>
<text transform="translate(299.10,229.40) rotate(-90)" font-size="7.3" text-anchor="middle" fill="#000" stroke="#000" stroke-width="0.25">% p-H2AX</text>
<text transform="translate(281.90,166.60)" font-size="12" text-anchor="start" font-weight="bold" fill="#000" stroke="#000" stroke-width="0.5">D</text>
</g></svg></body></html>
